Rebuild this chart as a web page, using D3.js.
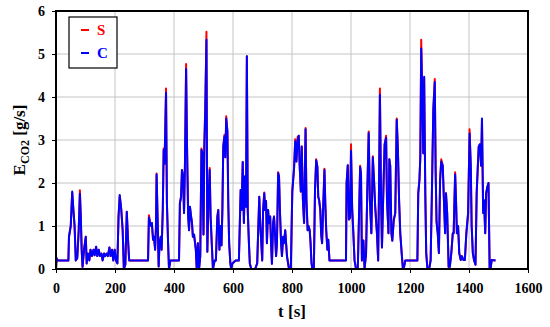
<!DOCTYPE html>
<html>
<head>
<meta charset="utf-8">
<script src="https://cdn.jsdelivr.net/npm/d3@7"></script>
<style>
  body { margin: 0; background: #fff; }
  svg text { font-family: "Times New Roman", "Liberation Serif", serif; font-weight: bold; }
</style>
</head>
<body>
<div id="chart"></div>
<script>
// time [s]
const tSec = [0,2,6,42,44,50,55,59,63,67,72,77,81,84,87,90,95,101,104,108,
  113,117,122,127,131,136,140,145,149,154,158,163,167,172,176,181,185,190,194,199,
  203,208,212,216,221,226,230,235,240,244,248,312,315,319,322,325,329,332,336,339,
  341,345,348,351,355,358,362,365,368,373,376,380,383,388,417,420,424,427,431,434,
  437,441,444,448,451,454,458,461,464,468,474,477,481,485,489,493,496,500,503,506,
  510,513,516,521,524,528,532,538,542,547,550,554,557,561,564,567,571,574,577,581,
  584,587,591,594,598,609,620,626,629,633,637,640,644,647,650,654,657,662,675,682,
  689,692,696,699,702,706,709,712,715,719,722,726,729,732,736,739,743,746,749,753,
  756,759,763,766,770,773,777,780,783,787,790,796,801,807,811,815,819,823,826,830,
  833,837,841,846,849,853,856,860,863,866,869,874,878,882,886,889,892,896,899,902,
  906,910,913,916,920,923,927,983,985,989,993,997,1000,1004,1008,1012,1017,1023,1031,1034,
  1037,1042,1046,1051,1055,1060,1064,1069,1074,1078,1082,1088,1092,1095,1098,1102,1105,1110,1114,1119,
  1122,1127,1130,1133,1137,1140,1145,1150,1155,1159,1163,1167,1172,1176,1180,1184,1225,1228,1232,1235,
  1238,1242,1245,1248,1252,1255,1259,1265,1270,1274,1279,1284,1287,1290,1294,1298,1302,1306,1311,1315,
  1319,1322,1326,1331,1335,1340,1345,1348,1353,1356,1359,1363,1367,1372,1376,1381,1386,1391,1397,1402,
  1406,1409,1413,1417,1422,1426,1430,1433,1437,1441,1444,1448,1451,1455,1458,1462,1466,1470,1473,1477,
  1490];

// E_CO2 [g/s], series C
const eC = [0,0.25,0.2,0.2,0.75,1.0,1.8,1.37,1.0,0.2,0.25,0.9,1.75,1.22,0.45,0.05,0.45,0.75,0.13,0.36,
  0.2,0.45,0.3,0.45,0.32,0.52,0.3,0.45,0.3,0.36,0.2,0.36,0.3,0.36,0.3,0.5,0.3,0.45,0.2,0.45,
  0.2,0.13,1.22,1.72,1.4,0.9,0,0.1,1.33,0.7,0.2,0.2,1.2,1.07,1.0,1.07,0.68,0.75,0.45,1.0,
  2.2,1.0,0.06,0.6,0.75,0.45,1.37,2.77,2.45,4.1,1.53,0.6,0,0.2,0.2,1.53,1.68,2.3,2.15,1.3,
  2.38,4.65,2.92,1.22,0.9,1.45,1.22,1.07,0.75,0.8,0.45,0,0.6,0,0.3,2.77,2.7,0.8,2.93,3.7,
  5.33,0.4,1.37,2.3,1.22,0.6,0,0.2,0.2,1.22,1.37,0.45,1.0,0.55,1.37,2.85,3.08,2.6,3.5,3.2,
  1.53,0.6,0.13,0,0.13,0.2,0.2,1.84,1.37,2.49,1.07,2.15,1.45,4.95,1.37,0.6,0.13,0,0,0.13,
  1.68,1.1,0.6,0.2,1.37,1.76,1.37,1.58,0.6,1.37,1.07,1.22,0.6,0.12,1.07,1.22,0.75,0.3,0.6,2.23,
  2.15,1.37,0.6,0.3,0.75,0.6,0.9,0.6,0.3,0.12,0,0,1.8,2.35,2.97,2.5,3.0,3.1,2.4,1.8,
  2.85,1.6,1.07,3.25,1.6,0.9,1.0,0.9,0.6,0.15,0,0,1.84,2.53,2.38,1.68,1.6,1.37,0.8,0.6,
  1.5,2.3,1.5,0.9,0.45,0.68,0.2,0.2,1.99,2.41,1.15,1.2,2.75,1.4,0.83,0.2,0,0,2.37,2.2,
  0.2,0.66,0,0.35,1.75,3.16,1.6,0.83,2.6,2.07,1.45,0.83,0.2,1.9,4.05,1.6,0.5,1.9,2.9,3.05,
  1.6,0.83,2.55,2.4,0.83,0.66,1.14,1.3,3.47,2.77,1.6,0.83,0.35,0,0.05,0.2,0.2,1.76,2.07,2.61,
  5.13,3.93,2.69,4.47,1.68,0.37,0,0,0.21,1.68,3.7,4.35,2.25,1.1,0.83,0.37,2.07,2.5,2.4,1.6,
  0.83,1.76,1.3,0.05,0.05,0.37,0.83,0.83,2.2,1.6,0.83,1.0,0.37,0.21,0.3,0.21,0.21,0.83,1.3,3.15,
  2.4,1.0,0.37,0.21,0.1,1.76,2.4,2.85,2.9,2.4,3.5,1.3,1.6,0.83,1.76,1.9,2.0,0,0,0.21,
  0.2];

// E_CO2 [g/s], series S
const eS = [0,0.25,0.2,0.2,0.75,1.0,1.78,1.37,1.0,0.2,0.25,0.9,1.83,1.22,0.45,0.05,0.45,0.75,0.13,0.36,
  0.2,0.45,0.3,0.45,0.32,0.52,0.3,0.45,0.3,0.36,0.2,0.36,0.3,0.36,0.3,0.5,0.3,0.45,0.2,0.45,
  0.2,0.13,1.22,1.7,1.4,0.9,0,0.1,1.33,0.7,0.2,0.2,1.25,1.07,1.0,1.07,0.68,0.75,0.45,1.0,
  2.22,1.0,0.06,0.6,0.75,0.45,1.37,2.8,2.45,4.2,1.53,0.6,0,0.2,0.2,1.53,1.68,2.3,2.15,1.3,
  2.38,4.77,2.92,1.22,0.9,1.45,1.22,1.07,0.75,0.8,0.45,0,0.6,0,0.3,2.8,2.7,0.8,2.93,3.75,
  5.52,0.4,1.37,2.35,1.22,0.6,0,0.2,0.2,1.22,1.37,0.45,1.0,0.55,1.37,2.85,3.12,2.6,3.55,3.2,
  1.53,0.6,0.13,0,0.13,0.2,0.2,1.84,1.37,2.49,1.07,2.15,1.45,4.95,1.37,0.6,0.13,0,0,0.13,
  1.68,1.1,0.6,0.2,1.37,1.78,1.37,1.58,0.6,1.37,1.07,1.22,0.6,0.12,1.07,1.22,0.75,0.3,0.6,2.25,
  2.15,1.37,0.6,0.3,0.75,0.6,0.9,0.6,0.3,0.12,0,0,1.8,2.35,3.02,2.5,3.07,3.1,2.4,1.8,
  2.85,1.6,1.07,3.28,1.6,0.9,1.0,0.9,0.6,0.15,0,0,1.84,2.55,2.38,1.68,1.6,1.37,0.8,0.6,
  1.5,2.33,1.5,0.9,0.45,0.68,0.2,0.2,1.99,2.41,1.15,1.2,2.9,1.4,0.83,0.2,0,0,2.4,2.2,
  0.2,0.66,0,0.35,1.75,3.2,1.6,0.83,2.62,2.07,1.45,0.83,0.2,1.9,4.2,1.6,0.5,1.9,2.9,3.1,
  1.6,0.83,2.55,2.4,0.83,0.66,1.14,1.3,3.5,2.77,1.6,0.83,0.35,0,0.05,0.2,0.2,1.76,2.07,2.61,
  5.33,3.93,2.69,4.45,1.68,0.37,0,0,0.21,1.68,3.7,4.42,2.25,1.1,0.83,0.37,2.07,2.55,2.4,1.6,
  0.83,1.76,1.3,0.05,0.05,0.37,0.83,0.83,2.25,1.6,0.83,1.0,0.37,0.21,0.3,0.21,0.21,0.83,1.3,3.25,
  2.4,1.0,0.37,0.21,0.1,1.76,2.4,2.85,2.9,2.4,3.45,1.3,1.6,0.83,1.76,1.9,2.0,0,0,0.21,
  0.2];

const xTicks = [0, 200, 400, 600, 800, 1000, 1200, 1400, 1600];
const yTicks = [0, 1, 2, 3, 4, 5, 6];

const W = 550, H = 327;
const margin = {top: 11, right: 22, bottom: 58, left: 56};
const width = W - margin.left - margin.right;
const height = H - margin.top - margin.bottom;

const svg = d3.select("#chart").append("svg")
    .attr("width", W)
    .attr("height", H);

const g = svg.append("g")
    .attr("transform", `translate(${margin.left},${margin.top})`);

const x = d3.scaleLinear().domain([0, 1600]).range([0, width]);
const y = d3.scaleLinear().domain([0, 6]).range([height, 0]);

// grid
g.append("g").selectAll("line.vg")
    .data(xTicks.slice(1, -1))
    .enter().append("line")
    .attr("x1", d => x(d)).attr("x2", d => x(d))
    .attr("y1", 0).attr("y2", height)
    .attr("stroke", "#c4c4c4").attr("stroke-width", 1);

g.append("g").selectAll("line.hg")
    .data(yTicks.slice(1, -1))
    .enter().append("line")
    .attr("x1", 0).attr("x2", width)
    .attr("y1", d => y(d)).attr("y2", d => y(d))
    .attr("stroke", "#c4c4c4").attr("stroke-width", 1);

// series
const pts = (vals) => tSec.map((t, i) => [t, vals[i]]);
const line = d3.line().x(d => x(d[0])).y(d => y(d[1]));

g.append("path")
    .attr("d", line(pts(eS)))
    .attr("fill", "none")
    .attr("stroke", "#ff0000")
    .attr("stroke-width", 2)
    .attr("stroke-linejoin", "round");

g.append("path")
    .attr("d", line(pts(eC)))
    .attr("fill", "none")
    .attr("stroke", "#0000ff")
    .attr("stroke-width", 2)
    .attr("stroke-linejoin", "round");

// axes
const xAxis = g.append("g")
    .attr("transform", `translate(0,${height})`)
    .call(d3.axisBottom(x).tickValues(xTicks).tickSize(4).tickFormat(d3.format("d")));
const yAxis = g.append("g")
    .call(d3.axisLeft(y).tickValues(yTicks).tickSize(4).tickPadding(7).tickFormat(d3.format("d")));

[xAxis, yAxis].forEach(a => {
    a.select(".domain").remove();
    a.selectAll("line").attr("stroke", "#000");
    a.selectAll("text").attr("font-size", 14).attr("fill", "#000")
        .style("font-family", "'Times New Roman', 'Liberation Serif', serif").style("font-weight", "bold");
});
xAxis.selectAll("text").attr("dy", "1.2em");

// frame
g.append("rect")
    .attr("width", width).attr("height", height)
    .attr("fill", "none").attr("stroke", "#000").attr("stroke-width", 2);

// axis titles
svg.append("text")
    .attr("x", margin.left + width / 2)
    .attr("y", 317)
    .attr("text-anchor", "middle")
    .attr("font-size", 17)
    .text("t [s]");

const yl = svg.append("text")
    .attr("transform", `translate(25,${margin.top + height / 2}) rotate(-90)`)
    .attr("text-anchor", "middle")
    .attr("font-size", 17);
yl.append("tspan").text("E");
yl.append("tspan").attr("font-size", 12).attr("dy", 4).text("CO2");
yl.append("tspan").attr("dy", -4).text(" [g/s]");

// legend
const leg = svg.append("g").attr("transform", "translate(69,17)");
leg.append("rect")
    .attr("width", 48).attr("height", 51)
    .attr("fill", "#fff").attr("stroke", "#000").attr("stroke-width", 1.2);
const items = [{name: "S", color: "#ff0000"}, {name: "C", color: "#0000ff"}];
items.forEach((it, i) => {
    const yy = 13 + i * 23;
    leg.append("line")
        .attr("x1", 12).attr("x2", 20)
        .attr("y1", yy).attr("y2", yy)
        .attr("stroke", it.color).attr("stroke-width", 2);
    leg.append("text")
        .attr("x", 28).attr("y", yy + 5)
        .attr("font-size", 15)
        .attr("fill", it.color)
        .text(it.name);
});
</script>
</body>
</html>
